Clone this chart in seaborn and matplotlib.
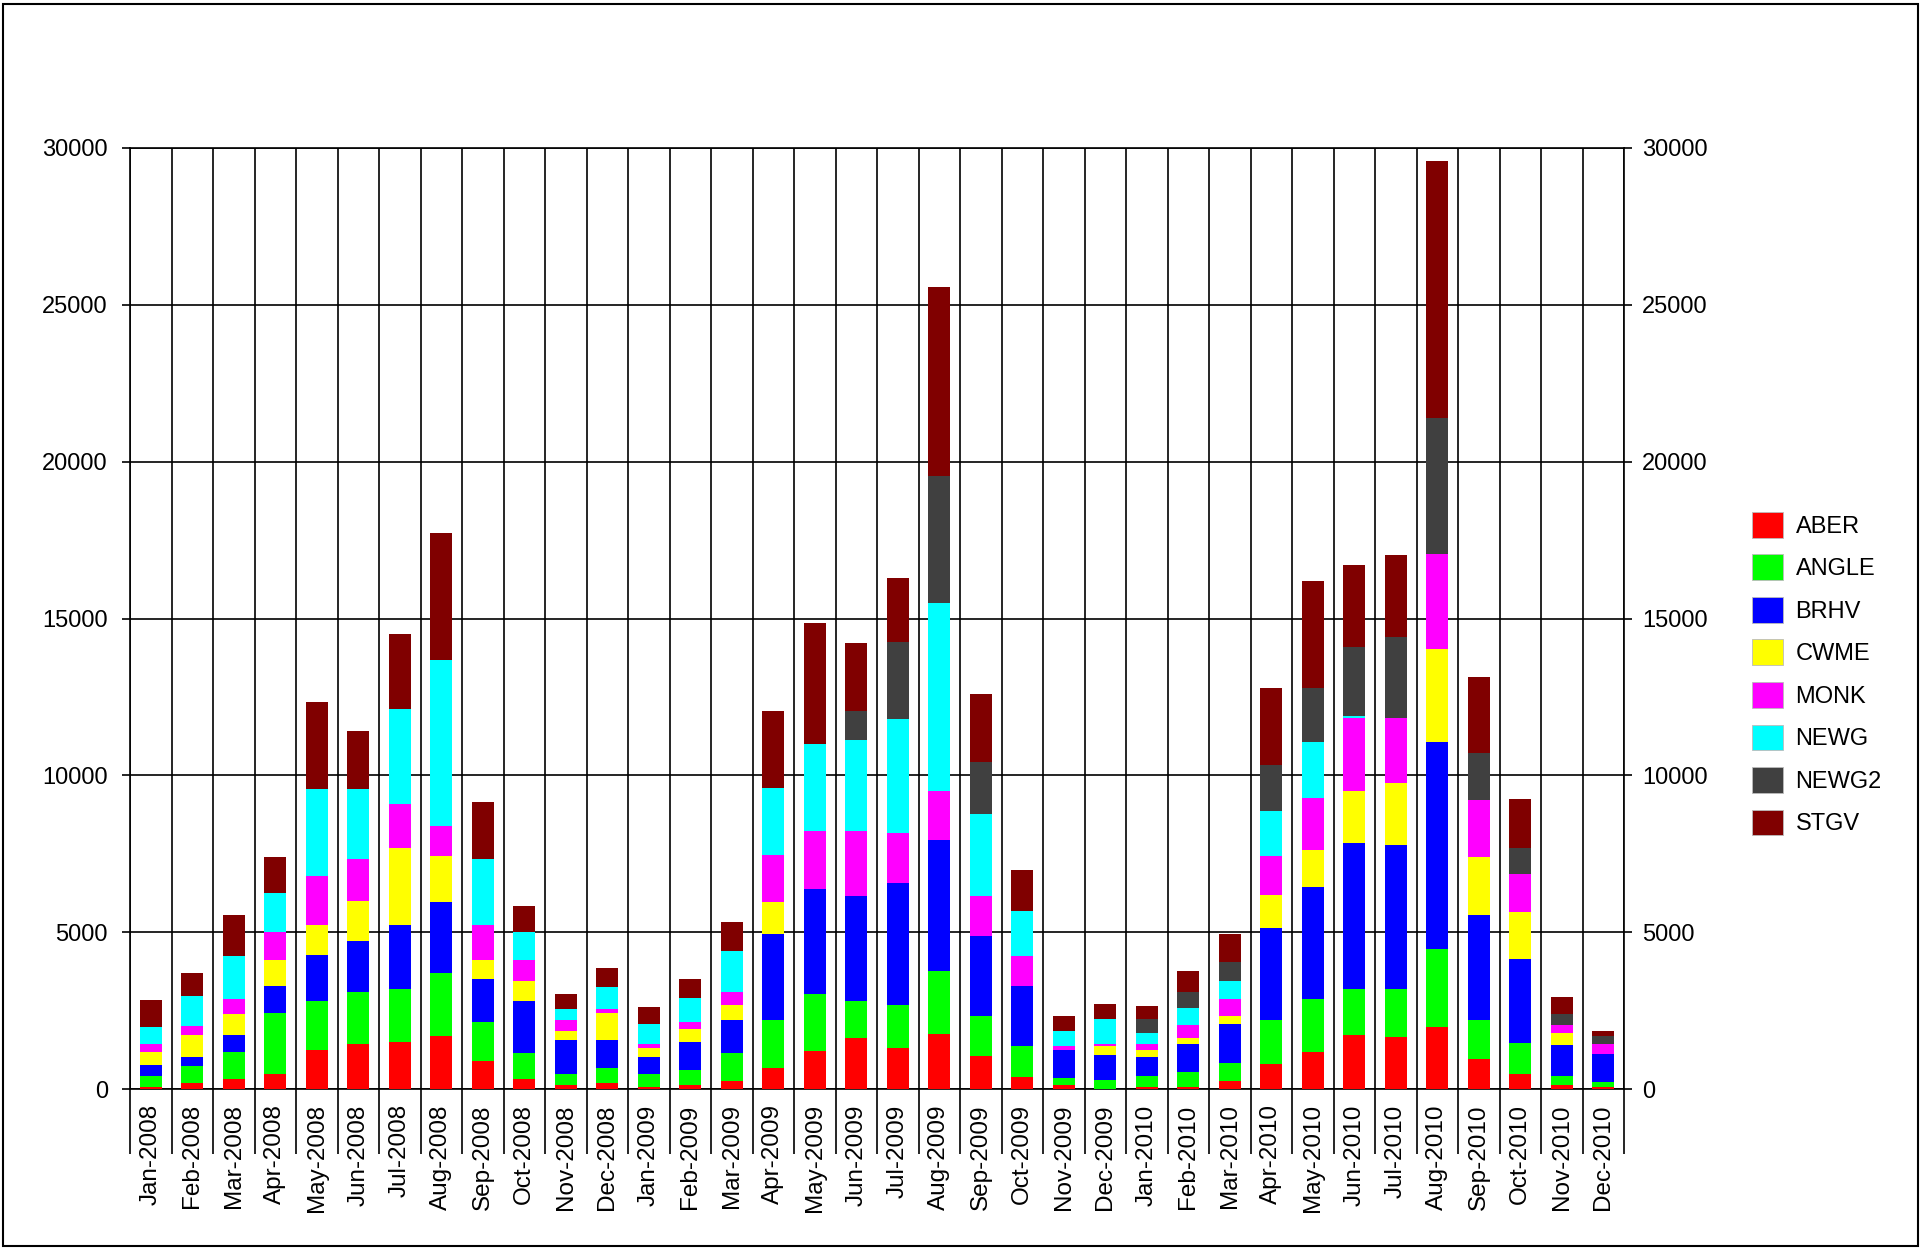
import numpy as np
import pandas as pd
import matplotlib
matplotlib.use("Agg")
import matplotlib.pyplot as plt
import seaborn as sns
from matplotlib.patches import Patch, Rectangle

months = ["Jan-2008", "Feb-2008", "Mar-2008", "Apr-2008", "May-2008", "Jun-2008",
          "Jul-2008", "Aug-2008", "Sep-2008", "Oct-2008", "Nov-2008", "Dec-2008",
          "Jan-2009", "Feb-2009", "Mar-2009", "Apr-2009", "May-2009", "Jun-2009",
          "Jul-2009", "Aug-2009", "Sep-2009", "Oct-2009", "Nov-2009", "Dec-2009",
          "Jan-2010", "Feb-2010", "Mar-2010", "Apr-2010", "May-2010", "Jun-2010",
          "Jul-2010", "Aug-2010", "Sep-2010", "Oct-2010", "Nov-2010", "Dec-2010"]

ABER = [70, 190, 307, 485, 1253, 1442, 1489, 1690, 898, 307, 130, 189,
        71, 130, 267, 662, 1197, 1624, 1314, 1741, 1068, 396, 128, 0,
        64, 64, 248, 792, 1194, 1726, 1667, 1962, 957, 487, 136, 58]
ANGLE = [355, 531, 887, 1950, 1537, 1643, 1714, 2010, 1241, 828, 355, 473,
         414, 473, 876, 1550, 1837, 1186, 1378, 2020, 1250, 974, 225, 300,
         354, 471, 579, 1407, 1667, 1477, 1536, 2506, 1242, 974, 293, 176]
BRHV = [355, 296, 532, 851, 1477, 1619, 2033, 2246, 1372, 1666, 1063, 886,
        532, 886, 1069, 2735, 3355, 3333, 3868, 4177, 2575, 1928, 900, 781,
        599, 900, 1253, 2919, 3569, 4646, 4587, 6596, 3333, 2669, 974, 896]
CWME = [414, 709, 650, 827, 969, 1301, 2447, 1489, 591, 639, 296, 887,
        295, 414, 459, 1015, 0, 0, 0, 0, 0, 0, 0, 289,
        236, 192, 237, 1064, 1182, 1666, 1962, 2979, 1856, 1520, 389, 0]
MONK = [236, 295, 496, 887, 1549, 1312, 1419, 957, 1134, 673, 355, 118,
        118, 236, 427, 1495, 1837, 2083, 1613, 1549, 1250, 953, 117, 75,
        182, 407, 555, 1253, 1667, 2317, 2080, 3010, 1832, 1208, 254, 292]
NEWG = [532, 946, 1360, 1241, 2789, 2257, 3026, 5296, 2081, 887, 354, 709,
        650, 769, 1314, 2137, 2757, 2885, 3633, 6002, 2618, 1424, 482, 771,
        364, 536, 568, 1430, 1785, 59, 0, 0, 0, 0, 0, 0]
NEWG2 = [0, 0, 0, 0, 0, 0, 0, 0, 0, 0, 0, 0,
         0, 0, 0, 0, 0, 940, 2457, 4059, 1677, 0, 0, 0,
         417, 535, 614, 1478, 1714, 2211, 2565, 4330, 1477, 837, 350, 273]
STGV = [887, 733, 1300, 1147, 2755, 1844, 2387, 4031, 1832, 827, 485, 603,
        532, 591, 898, 2457, 3867, 2158, 2030, 6027, 2147, 1316, 482, 482,
        418, 664, 899, 2435, 3404, 2612, 2612, 8191, 2435, 1559, 526, 156]

series_names = ["ABER", "ANGLE", "BRHV", "CWME", "MONK", "NEWG", "NEWG2", "STGV"]
series_values = [ABER, ANGLE, BRHV, CWME, MONK, NEWG, NEWG2, STGV]
series_colors = ["#FF0000", "#00FF00", "#0000FF", "#FFFF00", "#FF00FF",
                 "#00FFFF", "#404040", "#800000"]
y_ticks = [0, 5000, 10000, 15000, 20000, 25000, 30000]

FONT = "Liberation Sans"
W, H = 1921, 1249
fig = plt.figure(figsize=(W / 100, H / 100), dpi=100)
fig.patch.set_facecolor("white")
L, R, T, B = 130, 1624, 148, 1089
ax = fig.add_axes([L / W, 1 - B / H, (R - L) / W, (B - T) / H])

df = pd.DataFrame({name: vals for name, vals in zip(series_names, series_values)})
df["month"] = pd.Categorical(months, categories=months, ordered=True)
cum = df[series_names].cumsum(axis=1)

for name, color in reversed(list(zip(series_names, series_colors))):
    sns.barplot(x=df["month"], y=cum[name], color=color, saturation=1,
                width=0.53, linewidth=0, errorbar=None, ax=ax, order=months,
                zorder=3)

ax.set_xlabel("")
ax.set_ylabel("")
ax.set_xlim(-0.5, len(months) - 0.5)
ax.set_ylim(0, 30000)
ax.set_axisbelow(True)

# x axis: labels at bar centres, long separators between categories
ax.set_xticks(range(len(months)))
ax.set_xticklabels(months, rotation=90, fontsize=17.5, family=FONT)
ax.set_xticks(np.arange(-0.5, len(months), 1.0), minor=True)
ax.tick_params(axis="x", which="major", length=0, pad=11)
ax.tick_params(axis="x", which="minor", length=47, width=1.2, color="black",
               direction="out")
ax.grid(axis="x", which="minor", color="black", linewidth=1.2)

# y axis
ax.set_yticks(y_ticks)
ax.set_yticklabels([str(v) for v in y_ticks], fontsize=17, family=FONT)
ax.tick_params(axis="y", which="major", length=6, width=1.2, pad=10,
               direction="out", colors="black")
ax.grid(axis="y", which="major", color="black", linewidth=1.2)
for s in ax.spines.values():
    s.set_color("black")
    s.set_linewidth(1.2)

ax2 = ax.twinx()
ax2.set_ylim(0, 30000)
ax2.set_yticks(y_ticks)
ax2.set_yticklabels([str(v) for v in y_ticks], fontsize=17, family=FONT)
ax2.tick_params(axis="y", length=6, width=1.2, pad=7, direction="out")
for s in ax2.spines.values():
    s.set_visible(False)

handles = [Patch(facecolor=c, edgecolor="#bbbbbb", linewidth=0.6, label=n)
           for n, c in zip(series_names, series_colors)]
fig.legend(handles=handles, loc="upper left",
           bbox_to_anchor=(1740 / W, 1 - 500 / H), frameon=False,
           borderpad=0, handlelength=1.3, handleheight=1.3,
           handletextpad=0.55, labelspacing=0.71,
           prop={"family": FONT, "size": 17})

fig.patches.append(Rectangle((3 / W, 3 / H), (W - 6) / W, (H - 7) / H,
                             transform=fig.transFigure, fill=False,
                             edgecolor="black", linewidth=1.5))

fig.savefig("out.png", dpi=100, facecolor="white")
